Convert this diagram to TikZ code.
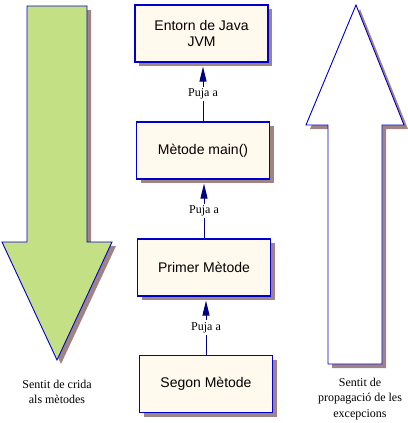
\documentclass[tikz,border=0pt]{standalone}
\usepackage{fontspec}
\setmainfont{Liberation Serif}
\newfontfamily\arialf{Liberation Sans}
\usetikzlibrary{arrows.meta,shadows}
\definecolor{bord}{HTML}{0000CC}
\definecolor{shad}{HTML}{A08484}
\definecolor{cream}{HTML}{FFF9EE}
\definecolor{leaf}{HTML}{C4E084}
\definecolor{navy}{HTML}{000080}
\tikzset{
  methodbox/.style={draw=bord, line width=1.2pt, fill=cream, minimum width=133pt, minimum height=57pt,
    align=center, font=\arialf\fontsize{14}{15.5}\selectfont, inner sep=0pt,
    drop shadow={shadow xshift=4pt, shadow yshift=-4pt, fill=shad, opacity=1}},
  caption/.style={align=center, font=\fontsize{12}{15.5}\selectfont, inner sep=0pt},
  link/.style={draw=navy, line width=1pt, -{Triangle[width=7pt,length=15pt]}, shorten >=4pt},
  linklabel/.style={fill=white, font=\fontsize{12}{14}\selectfont, inner sep=2pt, pos=0.47},
  bigarrow/.style={draw=bord, line width=0.9pt, line join=miter}
}
\begin{document}
\begin{tikzpicture}[x=1pt,y=-1pt]
\useasboundingbox (0,0) rectangle (407,423);
% left green arrow
\fill[shad] (31,10) -- (91,10) -- (91,246) -- (116,246) -- (61,364) -- (6,246) -- (31,246) -- cycle;
\filldraw[bigarrow, fill=leaf] (27,6) -- (87,6) -- (87,242) -- (112,242) -- (57,360) -- (2,242) -- (27,242) -- cycle;
% right white arrow
\fill[shad] (360,9) -- (408,129) -- (386,129) -- (386,368) -- (332,368) -- (332,129) -- (310,129) -- cycle;
\filldraw[bigarrow, fill=white] (356,5) -- (404,125) -- (382,125) -- (382,364) -- (328,364) -- (328,125) -- (306,125) -- cycle;
% boxes
\node[methodbox] (b1) at (201.5,33.5) {Entorn de Java\\JVM};
\node[methodbox] (b2) at (203,150.5) {Mètode main()};
\node[methodbox] (b3) at (204,267.5) {Primer Mètode};
\node[methodbox] (b4) at (206,384) {Segon Mètode};
% connectors
\draw[link] (b2.north) -- node[linklabel] (l1) {Puja a} (b2.north |- b1.south);
\draw[link] (b3.north) -- node[linklabel] (l2) {Puja a} (b3.north |- b2.south);
\draw[link] (b4.north) -- node[linklabel] (l3) {Puja a} (b4.north |- b3.south);
% captions
\node[caption] (c1) at (57,392) {Sentit de crida\\als mètodes};
\node[caption] (c2) at (360,399) {Sentit de\\propagació de les\\excepcions};
\end{tikzpicture}
\end{document}
